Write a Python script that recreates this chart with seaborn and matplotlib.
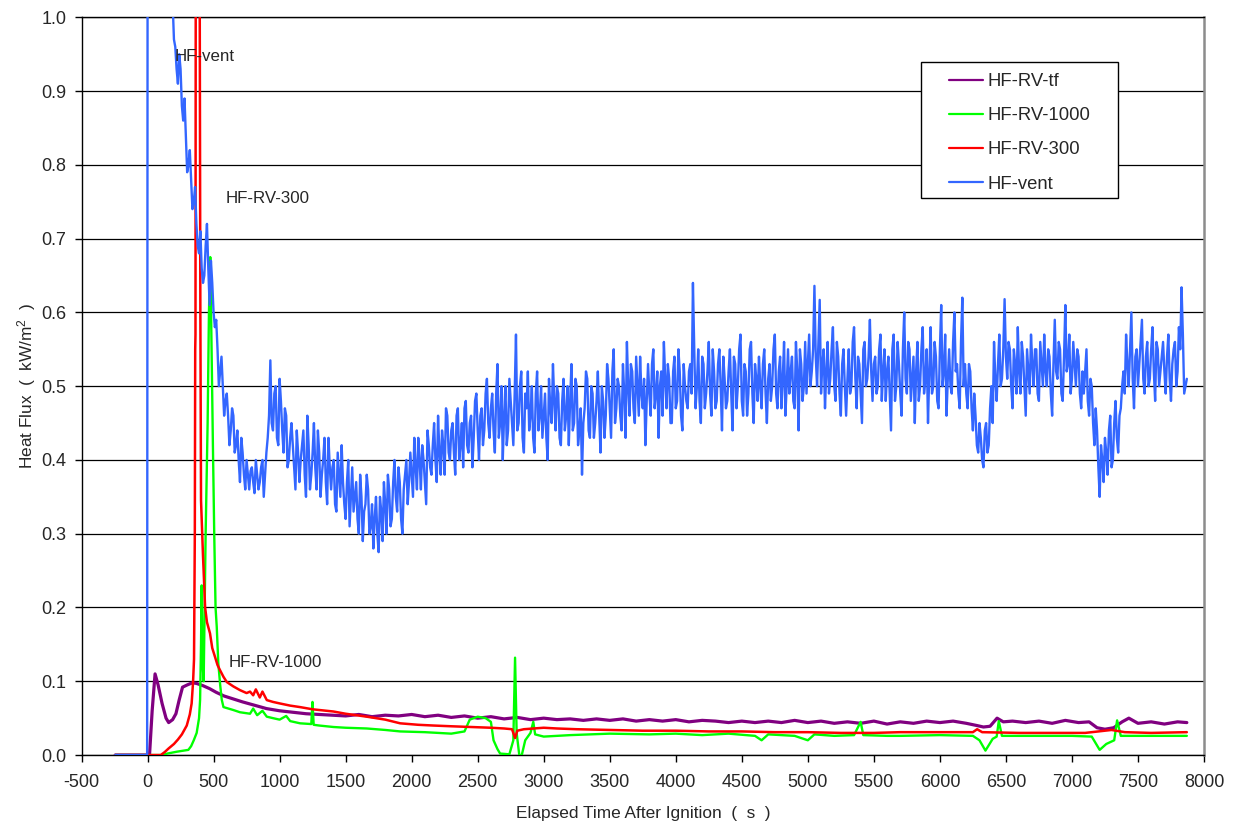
import numpy as np
import pandas as pd
import matplotlib
matplotlib.use("Agg")
import matplotlib.pyplot as plt
from matplotlib.patches import Rectangle
import seaborn as sns

# ---------------- data ----------------
# HF-RV-tf (purple)
tf_time = [-245, 15, 35, 57, 80, 110, 140, 160, 190, 215, 240, 265, 300, 340, 372,
           420, 470, 520, 580, 650, 720, 800, 900, 1000, 1100, 1200, 1300, 1400,
           1500, 1600, 1700, 1800, 1900, 2000, 2100, 2200, 2300, 2400, 2500, 2600,
           2700, 2800, 2900, 3000, 3100, 3200, 3300, 3400, 3500, 3600, 3700, 3800,
           3900, 4000, 4100, 4200, 4300, 4400, 4500, 4600, 4700, 4800, 4900, 5000,
           5100, 5200, 5300, 5400, 5500, 5600, 5700, 5800, 5900, 6000, 6100, 6200,
           6280, 6330, 6380, 6433, 6480, 6550, 6650, 6750, 6850, 6950, 7050, 7130,
           7190, 7250, 7316, 7380, 7431, 7500, 7600, 7700, 7800, 7870]
tf_flux = [0.0, 0.0, 0.06, 0.11, 0.095, 0.07, 0.05, 0.044, 0.048, 0.056, 0.075, 0.092,
           0.095, 0.098, 0.097, 0.094, 0.090, 0.085, 0.080, 0.076, 0.072, 0.068, 0.063,
           0.060, 0.058, 0.056, 0.055, 0.054, 0.053, 0.055, 0.052, 0.054, 0.053, 0.055,
           0.052, 0.054, 0.051, 0.053, 0.050, 0.052, 0.049, 0.051, 0.048, 0.050, 0.048,
           0.049, 0.047, 0.049, 0.047, 0.049, 0.046, 0.048, 0.046, 0.048, 0.045, 0.047,
           0.046, 0.044, 0.046, 0.044, 0.046, 0.044, 0.047, 0.044, 0.046, 0.043, 0.045,
           0.043, 0.046, 0.042, 0.045, 0.043, 0.046, 0.044, 0.046, 0.043, 0.040, 0.038,
           0.039, 0.050, 0.045, 0.046, 0.044, 0.046, 0.043, 0.047, 0.044, 0.045, 0.037,
           0.035, 0.037, 0.045, 0.050, 0.043, 0.045, 0.042, 0.045, 0.044]

# HF-RV-1000 (green)
rv1000_time = [-245, 120, 150, 221, 309, 330, 350, 372, 390, 398, 405, 410, 415, 425,
               440, 455, 465, 475, 485, 495, 505, 515, 524, 536, 550, 562, 575, 650,
               700, 776, 800, 830, 870, 903, 950, 1000, 1050, 1080, 1155, 1240, 1249,
               1258, 1300, 1408, 1500, 1660, 1800, 1913, 2100, 2300, 2400, 2440, 2500,
               2560, 2600, 2620, 2650, 2670, 2740, 2770, 2783, 2795, 2815, 2834, 2860,
               2900, 2921, 2935, 3000, 3200, 3500, 3800, 4000, 4200, 4400, 4600, 4650,
               4700, 4900, 5000, 5050, 5200, 5350, 5400, 5420, 5600, 5700, 6000, 6250,
               6300, 6345, 6400, 6430, 6446, 6470, 6700, 7000, 7150, 7210, 7260, 7320,
               7342, 7370, 7600, 7870]
rv1000_flux = [0.0, 0.0, 0.002, 0.0045, 0.007, 0.012, 0.02, 0.03, 0.05, 0.075, 0.15,
               0.23, 0.13, 0.10, 0.30, 0.45, 0.60, 0.675, 0.55, 0.42, 0.30, 0.20, 0.174,
               0.124, 0.095, 0.075, 0.065, 0.061, 0.058, 0.056, 0.063, 0.054, 0.060,
               0.052, 0.050, 0.048, 0.053, 0.046, 0.043, 0.042, 0.072, 0.041, 0.040,
               0.038, 0.037, 0.036, 0.034, 0.032, 0.031, 0.029, 0.032, 0.048, 0.052,
               0.050, 0.045, 0.020, 0.008, 0.002, 0.001, 0.020, 0.132, 0.030, 0.0, 0.0,
               0.020, 0.030, 0.045, 0.028, 0.025, 0.027, 0.029, 0.028, 0.029, 0.027,
               0.029, 0.026, 0.020, 0.028, 0.026, 0.020, 0.028, 0.026, 0.027, 0.045,
               0.027, 0.026, 0.026, 0.027, 0.026, 0.020, 0.006, 0.022, 0.025, 0.046,
               0.026, 0.026, 0.026, 0.025, 0.007, 0.015, 0.020, 0.047, 0.026, 0.026,
               0.026]

# HF-RV-300 (red)
rv300_time = [-245, 100, 130, 160, 200, 230, 260, 297, 320, 334, 345, 352, 358, 361,
              363, 366, 392, 400, 405, 420, 436, 450, 473, 490, 511, 530, 549, 575, 600,
              650, 700, 750, 776, 800, 820, 850, 870, 903, 950, 1000, 1080, 1155, 1250,
              1408, 1500, 1660, 1800, 1913, 2050, 2165, 2300, 2450, 2600, 2700, 2760,
              2783, 2800, 2850, 3000, 3100, 3250, 3500, 3750, 4000, 4250, 4500, 4750,
              5000, 5250, 5500, 5700, 6000, 6250, 6282, 6320, 6600, 6900, 7100, 7300,
              7400, 7600, 7870]
rv300_flux = [0.0, 0.0, 0.004, 0.009, 0.015, 0.021, 0.028, 0.040, 0.055, 0.070, 0.10,
              0.13, 0.30, 0.55, 0.57, 1.3, 1.3, 0.60, 0.345, 0.27, 0.20, 0.18, 0.165,
              0.145, 0.133, 0.122, 0.115, 0.106, 0.099, 0.093, 0.088, 0.084, 0.086,
              0.081, 0.089, 0.078, 0.086, 0.0745, 0.072, 0.070, 0.067, 0.065, 0.062,
              0.059, 0.056, 0.052, 0.048, 0.043, 0.041, 0.040, 0.039, 0.038, 0.037,
              0.036, 0.035, 0.023, 0.033, 0.035, 0.037, 0.036, 0.035, 0.034, 0.033,
              0.033, 0.032, 0.032, 0.031, 0.031, 0.030, 0.030, 0.031, 0.031, 0.031,
              0.035, 0.031, 0.030, 0.030, 0.030, 0.034, 0.031, 0.030, 0.031]

# HF-vent (blue): ignition jump, then a 10 s record starting at 190 s,
# stored as two interleaved 20 s sample sets (on-grid and half-step)
vent_start_time = [-245, -3, 2]
vent_start_flux = [0.0, 0.0, 1.6]
vent_record_t0 = 190
vent_record_dt = 20
vent_record_flux = [
    1.02, 0.96, 0.91, 0.93, 0.86, 0.84, 0.80, 0.78, 0.75, 0.72, 0.68, 0.66, 0.65, 0.72, 0.61,
    0.64, 0.58, 0.55, 0.52, 0.50, 0.48, 0.46, 0.44, 0.46, 0.42, 0.40, 0.43, 0.38, 0.40, 0.36,
    0.39, 0.355, 0.38, 0.37, 0.40, 0.38, 0.43, 0.535, 0.44, 0.50, 0.42, 0.48, 0.41, 0.46, 0.40,
    0.45, 0.39, 0.44, 0.37, 0.42, 0.38, 0.46, 0.36, 0.41, 0.39, 0.44, 0.35, 0.40, 0.37, 0.43,
    0.36, 0.40, 0.33, 0.38, 0.42, 0.34, 0.37, 0.31, 0.39, 0.35, 0.32, 0.38, 0.29, 0.34, 0.36,
    0.31, 0.28, 0.35, 0.275, 0.33, 0.37, 0.30, 0.36, 0.32, 0.40, 0.33, 0.37, 0.30, 0.38, 0.34,
    0.41, 0.35, 0.39, 0.43, 0.36, 0.40, 0.34, 0.42, 0.38, 0.45, 0.37, 0.41, 0.44, 0.38, 0.46,
    0.40, 0.45, 0.38, 0.47, 0.42, 0.39, 0.48, 0.41, 0.46, 0.43, 0.49, 0.40, 0.47, 0.44, 0.51,
    0.43, 0.49, 0.41, 0.53, 0.45, 0.40, 0.50, 0.44, 0.48, 0.42, 0.57, 0.45, 0.52, 0.41, 0.47,
    0.44, 0.50, 0.41, 0.52, 0.46, 0.43, 0.49, 0.40, 0.47, 0.53, 0.44, 0.49, 0.42, 0.51, 0.46,
    0.42, 0.53, 0.45, 0.50, 0.44, 0.38, 0.47, 0.51, 0.43, 0.49, 0.45, 0.52, 0.41, 0.48, 0.46,
    0.51, 0.43, 0.55, 0.47, 0.50, 0.44, 0.49, 0.56, 0.46, 0.52, 0.45, 0.50, 0.54, 0.47, 0.42,
    0.53, 0.46, 0.55, 0.49, 0.43, 0.52, 0.56, 0.47, 0.51, 0.45, 0.54, 0.48, 0.52, 0.44, 0.50,
    0.47, 0.53, 0.64, 0.47, 0.55, 0.45, 0.53, 0.49, 0.56, 0.46, 0.52, 0.48, 0.55, 0.44, 0.51,
    0.48, 0.55, 0.44, 0.53, 0.50, 0.57, 0.46, 0.52, 0.49, 0.56, 0.45, 0.51, 0.54, 0.47, 0.55,
    0.45, 0.53, 0.50, 0.57, 0.47, 0.54, 0.51, 0.46, 0.55, 0.52, 0.48, 0.56, 0.44, 0.53, 0.50,
    0.49, 0.57, 0.52, 0.636, 0.50, 0.617, 0.53, 0.47, 0.56, 0.51, 0.58, 0.48, 0.54, 0.46, 0.55,
    0.46, 0.55, 0.50, 0.58, 0.47, 0.53, 0.45, 0.56, 0.51, 0.59, 0.48, 0.54, 0.50, 0.57, 0.52,
    0.48, 0.54, 0.44, 0.57, 0.50, 0.53, 0.46, 0.60, 0.49, 0.55, 0.51, 0.45, 0.56, 0.50, 0.58,
    0.51, 0.45, 0.58, 0.50, 0.54, 0.47, 0.61, 0.52, 0.46, 0.55, 0.49, 0.60, 0.53, 0.47, 0.62,
    0.53, 0.47, 0.52, 0.44, 0.46, 0.41, 0.43, 0.39, 0.45, 0.42, 0.50, 0.56, 0.48, 0.57, 0.51,
    0.618, 0.51, 0.55, 0.47, 0.53, 0.58, 0.49, 0.54, 0.46, 0.52, 0.57, 0.50, 0.55, 0.48, 0.53,
    0.57, 0.50, 0.54, 0.46, 0.59, 0.51, 0.55, 0.48, 0.61, 0.53, 0.49, 0.56, 0.50, 0.54, 0.47,
    0.49, 0.55, 0.46, 0.50, 0.42, 0.44, 0.35, 0.40, 0.43, 0.38, 0.46, 0.40, 0.48, 0.41, 0.47,
    0.52, 0.57, 0.50, 0.60, 0.47, 0.55, 0.53, 0.59, 0.49, 0.56, 0.51, 0.58, 0.48, 0.55, 0.52,
    0.56, 0.49, 0.57, 0.48, 0.55, 0.50, 0.58, 0.634, 0.49, 0.51,
]
vent_half_step_flux = [
    0.97, 0.93, 0.95, 0.88, 0.89, 0.79, 0.82, 0.74, 0.77, 0.69, 0.71, 0.64, 0.69, 0.66, 0.67,
    0.60, 0.59, 0.50, 0.54, 0.46, 0.49, 0.42, 0.47, 0.41, 0.44, 0.37, 0.41, 0.36, 0.38, 0.385,
    0.37, 0.40, 0.36, 0.39, 0.35, 0.41, 0.46, 0.45, 0.49, 0.43, 0.51, 0.44, 0.47, 0.39, 0.43,
    0.42, 0.36, 0.41, 0.40, 0.44, 0.35, 0.42, 0.38, 0.45, 0.36, 0.41, 0.38, 0.43, 0.34, 0.39,
    0.39, 0.34, 0.41, 0.35, 0.37, 0.32, 0.40, 0.35, 0.33, 0.37, 0.30, 0.35, 0.33, 0.38, 0.30,
    0.34, 0.32, 0.30, 0.35, 0.29, 0.34, 0.38, 0.31, 0.37, 0.35, 0.39, 0.32, 0.36, 0.40, 0.37,
    0.38, 0.43, 0.36, 0.40, 0.42, 0.37, 0.44, 0.39, 0.42, 0.40, 0.46, 0.38, 0.42, 0.47, 0.41,
    0.44, 0.41, 0.46, 0.40, 0.45, 0.47, 0.42, 0.45, 0.39, 0.48, 0.44, 0.46, 0.42, 0.49, 0.45,
    0.47, 0.44, 0.49, 0.43, 0.50, 0.46, 0.42, 0.51, 0.45, 0.49, 0.44, 0.50, 0.43, 0.49, 0.52,
    0.46, 0.43, 0.49, 0.44, 0.50, 0.46, 0.43, 0.51, 0.45, 0.48, 0.50, 0.43, 0.48, 0.44, 0.50,
    0.48, 0.44, 0.51, 0.42, 0.47, 0.45, 0.52, 0.44, 0.50, 0.43, 0.48, 0.46, 0.50, 0.43, 0.53,
    0.47, 0.52, 0.45, 0.51, 0.46, 0.53, 0.43, 0.50, 0.53, 0.47, 0.54, 0.46, 0.49, 0.51, 0.48,
    0.49, 0.53, 0.47, 0.52, 0.50, 0.46, 0.51, 0.53, 0.45, 0.52, 0.47, 0.55, 0.46, 0.53, 0.48,
    0.52, 0.49, 0.55, 0.50, 0.48, 0.54, 0.47, 0.52, 0.49, 0.55, 0.47, 0.53, 0.50, 0.54, 0.47,
    0.52, 0.49, 0.54, 0.47, 0.55, 0.48, 0.53, 0.46, 0.55, 0.49, 0.53, 0.48, 0.50, 0.53, 0.49,
    0.51, 0.48, 0.55, 0.49, 0.52, 0.47, 0.56, 0.50, 0.49, 0.54, 0.47, 0.52, 0.55, 0.48, 0.56,
    0.53, 0.50, 0.55, 0.54, 0.56, 0.49, 0.55, 0.52, 0.49, 0.55, 0.50, 0.56, 0.49, 0.53, 0.50,
    0.51, 0.49, 0.56, 0.51, 0.54, 0.49, 0.55, 0.50, 0.54, 0.52, 0.53, 0.49, 0.55, 0.48, 0.55,
    0.52, 0.49, 0.55, 0.48, 0.56, 0.49, 0.55, 0.51, 0.56, 0.48, 0.54, 0.52, 0.48, 0.55, 0.49,
    0.55, 0.52, 0.49, 0.56, 0.48, 0.55, 0.50, 0.57, 0.51, 0.50, 0.56, 0.52, 0.49, 0.56, 0.50,
    0.49, 0.53, 0.47, 0.49, 0.42, 0.45, 0.40, 0.44, 0.41, 0.47, 0.45, 0.51, 0.53, 0.50, 0.55,
    0.54, 0.56, 0.50, 0.55, 0.49, 0.52, 0.56, 0.50, 0.55, 0.49, 0.53, 0.55, 0.49, 0.56, 0.50,
    0.52, 0.55, 0.49, 0.53, 0.52, 0.56, 0.49, 0.54, 0.52, 0.57, 0.51, 0.53, 0.55, 0.49, 0.52,
    0.52, 0.48, 0.51, 0.45, 0.47, 0.39, 0.42, 0.37, 0.41, 0.44, 0.39, 0.45, 0.43, 0.46, 0.50,
    0.49, 0.53, 0.55, 0.51, 0.54, 0.50, 0.56, 0.51, 0.54, 0.50, 0.55, 0.52, 0.56, 0.50, 0.54,
    0.52, 0.54, 0.51, 0.53, 0.56, 0.52, 0.55, 0.57, 0.50,
]

series_names = ["HF-RV-tf", "HF-RV-1000", "HF-RV-300", "HF-vent"]
series_colors = ["#800080", "#00FF00", "#FF0000", "#3366FF"]
series_widths = [2.3, 1.7, 1.8, 1.7]

x_ticks = list(range(-500, 8001, 500))
y_ticks = [round(0.1 * i, 1) for i in range(11)]

# ---------------- assemble ----------------
on_grid = pd.DataFrame({
    "time": [vent_record_t0 + vent_record_dt * i for i in range(len(vent_record_flux))],
    "flux": vent_record_flux,
})
half_step = pd.DataFrame({
    "time": [vent_record_t0 + vent_record_dt * i + vent_record_dt / 2
             for i in range(len(vent_half_step_flux))],
    "flux": vent_half_step_flux,
})
vent_df = pd.concat([
    pd.DataFrame({"time": vent_start_time, "flux": vent_start_flux}),
    pd.concat([on_grid, half_step]).sort_values("time"),
], ignore_index=True)

series = [
    pd.DataFrame({"time": tf_time, "flux": tf_flux}),
    pd.DataFrame({"time": rv1000_time, "flux": rv1000_flux}),
    pd.DataFrame({"time": rv300_time, "flux": rv300_flux}),
    vent_df,
]

# ---------------- style ----------------
sns.set_style("white")
plt.rcParams["font.family"] = ["Liberation Sans", "DejaVu Sans"]
plt.rcParams["mathtext.fontset"] = "custom"
plt.rcParams["mathtext.rm"] = "Liberation Sans"
plt.rcParams["mathtext.it"] = "Liberation Sans"

fig = plt.figure(figsize=(12.35, 8.25), dpi=100)
ax = fig.add_axes([0.066, 0.0848, 0.9089, 0.8942])

for df, name, col, w in zip(series, series_names, series_colors, series_widths):
    sns.lineplot(data=df, x="time", y="flux", color=col, lw=w, ax=ax,
                 estimator=None, sort=False, label=name, zorder=3)

ax.set_xlim(-500, 8000)
ax.set_ylim(0, 1.0)
ax.set_xticks(x_ticks)
ax.set_yticks(y_ticks)
ax.set_xticklabels([str(x) for x in x_ticks])
ax.set_yticklabels([f"{y:.1f}" for y in y_ticks])

ax.yaxis.grid(True, color="black", lw=0.9)
ax.xaxis.grid(False)
ax.set_axisbelow(True)

for side in ["left", "bottom", "top"]:
    ax.spines[side].set_color("black")
    ax.spines[side].set_linewidth(1.0)
ax.spines["right"].set_color("#8c8c8c")
ax.spines["right"].set_linewidth(1.8)

ax.tick_params(axis="x", direction="out", length=5, width=1, color="black",
               labelsize=13, pad=8.5, bottom=True)
ax.tick_params(axis="y", direction="out", length=5, width=1, color="black",
               labelsize=13, pad=6, left=True)

ax.set_xlabel("Elapsed Time After Ignition  (  s  )", fontsize=12.4, labelpad=11)
ax.set_ylabel("Heat Flux  (  kW/m$^{2}$  )", fontsize=12.4, labelpad=2.5)

# curve annotations
ax.text(208, 0.947, "HF-vent", fontsize=12.2, ha="left", va="center", zorder=4)
ax.text(595, 0.754, "HF-RV-300", fontsize=12.2, ha="left", va="center", zorder=4)
ax.text(617, 0.126, "HF-RV-1000", fontsize=12.2, ha="left", va="center", zorder=4)

# legend with a plain rectangular frame
box = Rectangle((920.7 / 1235, 1 - 197.7 / 825), 197.3 / 1235, 135.4 / 825,
                transform=fig.transFigure, facecolor="white", edgecolor="black",
                lw=1.0, zorder=5, clip_on=False)
ax.add_patch(box)
handles, labels = ax.get_legend_handles_labels()
leg = ax.legend(handles, labels, loc="upper left",
                bbox_to_anchor=(949 / 1235, 1 - 73 / 825),
                bbox_transform=fig.transFigure, frameon=False,
                fontsize=13.3, handlelength=1.84, handletextpad=0.27,
                labelspacing=0.93, borderpad=0, borderaxespad=0)
leg.set_zorder(6)
for line in leg.get_lines():
    line.set_linewidth(1.6)

fig.savefig("out.png", dpi=100)
